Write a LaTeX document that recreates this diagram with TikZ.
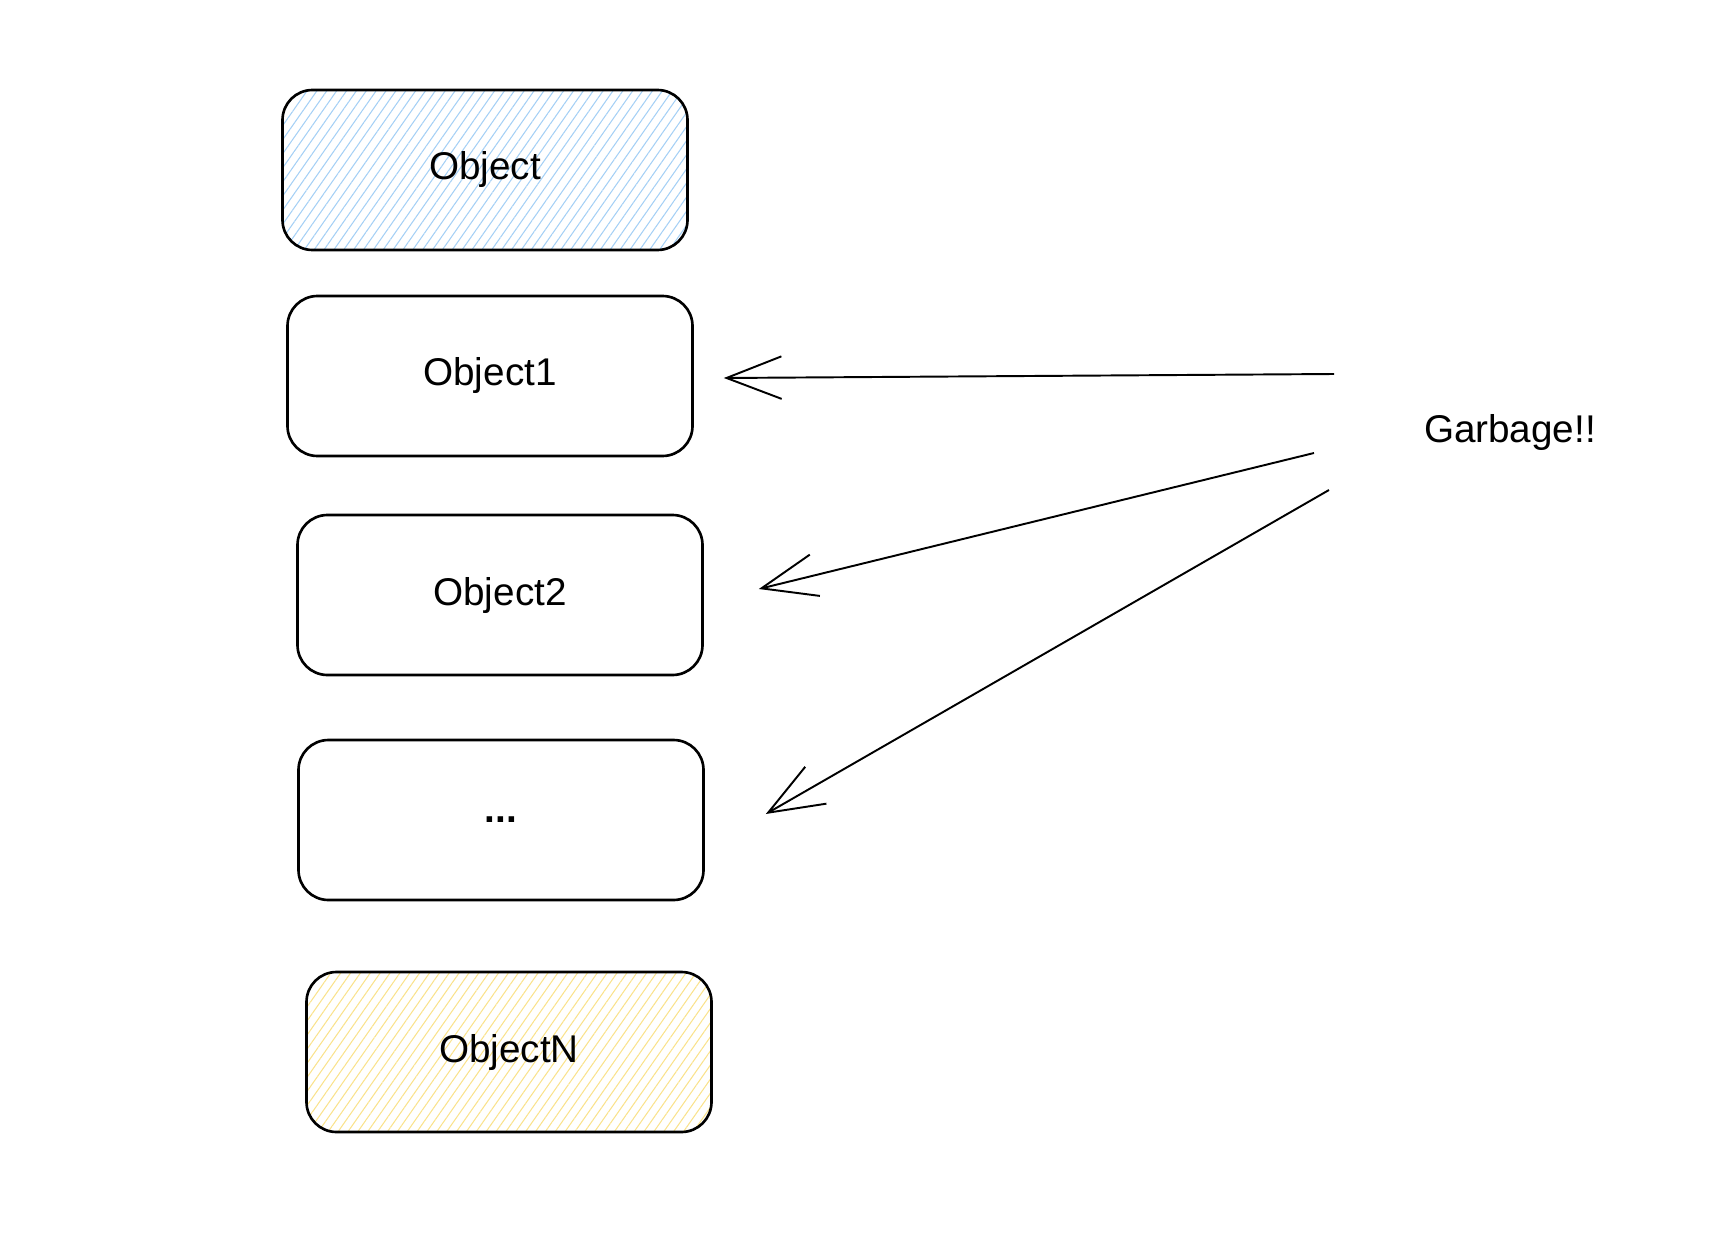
\documentclass[tikz,border=0pt]{standalone}
\usepackage{fontspec}
\setmainfont{Liberation Sans}
\usepackage{xcolor}
\usetikzlibrary{arrows.meta,patterns.meta,positioning}
\definecolor{hatchblue}{RGB}{165,208,245}
\definecolor{hatchyellow}{RGB}{250,226,140}
\tikzset{
  obj/.style={draw,line width=1.5pt,rounded corners=0.6cm,minimum width=8.1cm,minimum height=3.2cm,font=\fontsize{22}{26}\selectfont},
  hatch/.style={pattern={Lines[angle=55,distance=4.6pt,line width=0.6pt]},pattern color=#1},
  arr/.style={-{Straight Barb[length=1.1cm,width=0.85cm]},line width=1.1pt},
}
\begin{document}
\begin{tikzpicture}
\useasboundingbox (0,0) rectangle (34.4,-24.68);
\node[obj,hatch=hatchblue] (o0) at (9.7,-3.4) {Object};
\node[obj] (o1) at (9.8,-7.52) {Object1};
\node[obj] (o2) at (10.0,-11.9) {Object2};
\node[obj] (o3) at (10.02,-16.4) {\textbf{...}};
\node[obj,hatch=hatchyellow] (on) at (10.18,-21.04) {ObjectN};
\node[font=\fontsize{22}{26}\selectfont] (garb) at (30.2,-8.66) {Garbage!!};
% arrows from the garbage label
\coordinate (g1) at (26.68,-7.48);
\coordinate (g2) at (26.28,-9.06);
\coordinate (g3) at (26.58,-9.8);
\draw[arr] (g1)--([xshift=0.6cm,yshift=-0.04cm]o1.east);
\draw[arr] (g2)--([xshift=1.1cm,yshift=0.12cm]o2.east);
\draw[arr] (g3)--([xshift=1.22cm,yshift=0.12cm]o3.east);
\end{tikzpicture}
\end{document}
